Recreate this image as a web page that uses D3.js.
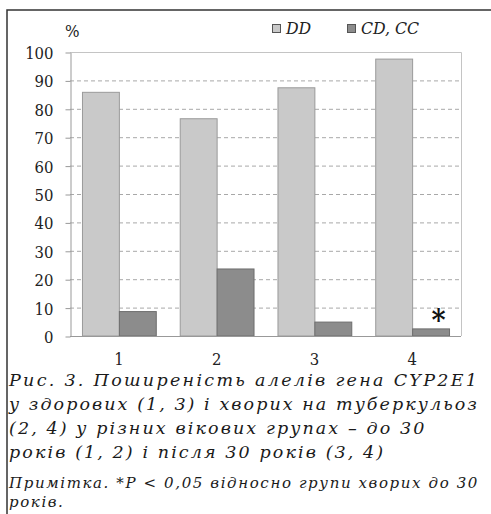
<!DOCTYPE html>
<html><head><meta charset="utf-8">
<script src="https://cdn.jsdelivr.net/npm/d3@7/dist/d3.min.js"></script>
<style>
body{margin:0;background:#fff}svg{display:block}
.serif{font-family:"DejaVu Serif Condensed","DejaVu Serif",serif;font-stretch:condensed}
.cap{font-family:"DejaVu Serif",serif;font-style:italic}
</style>
</head><body>
<svg id="c" width="491" height="514"></svg>
<script>
const groups = ["1", "2", "3", "4"];
const seriesNames = ["DD", "CD, CC"];
const ddValues = [85.8, 76.5, 87.4, 97.5];
const cdValues = [8.6, 23.6, 4.9, 2.5];
const yTicks = [0, 10, 20, 30, 40, 50, 60, 70, 80, 90, 100];
const yUnit = "%";
const captionLines = [
  "Рис. 3. Поширеність алелів гена CYP2E1",
  "у здорових (1, 3) і хворих на туберкульоз",
  "(2, 4) у різних вікових групах – до 30",
  "років (1, 2) і після 30 років (3, 4)"
];
const noteLines = [
  "Примітка. *P < 0,05 відносно групи хворих до 30",
  "років."
];
const marked = [{group: "4", series: 1, label: "*"}];

const svg = d3.select("#c");
const colors = ["#c9c9c9", "#8c8c8c"];
const strokes = ["#9a9a9a", "#6e6e6e"];
const L = 70, R = 461, T = 52, B = 336;

svg.append("path").attr("d", "M7,514 V10 H491").attr("fill", "none").attr("stroke", "#333").attr("stroke-width", 1.5);

const x0 = d3.scaleBand().domain(groups).range([L, R]).paddingInner(0.245).paddingOuter(0.1225);
const x1 = d3.scaleBand().domain([0, 1]).range([0, x0.bandwidth()]);
const y = d3.scaleLinear().domain([0, 100]).range([B, T]);

svg.append("g").selectAll("line").data(yTicks.filter(t => t > 0 && t < 100)).join("line")
  .attr("x1", L).attr("x2", R).attr("y1", d => y(d) + 0.5).attr("y2", d => y(d) + 0.5)
  .attr("stroke", "#a8a8a8").attr("stroke-dasharray", "4,3").attr("stroke-width", 1);

svg.append("path").attr("d", `M${L},${y(100)+0.5} H${R+0.5} V${B}`).attr("fill", "none").attr("stroke", "#c4c4c4").attr("stroke-width", 1);

const data = groups.map((g, i) => ({g, vals: [ddValues[i], cdValues[i]]}));
const gg = svg.append("g").selectAll("g").data(data).join("g")
  .attr("transform", d => `translate(${x0(d.g)},0)`);
gg.selectAll("rect").data(d => d.vals.map((v, s) => ({v, s}))).join("rect")
  .attr("x", d => x1(d.s) + 0.5).attr("width", x1.bandwidth())
  .attr("y", d => y(d.v)).attr("height", d => B - y(d.v))
  .attr("fill", d => colors[d.s]).attr("stroke", d => strokes[d.s]).attr("stroke-width", 1);

const ya = d3.axisLeft(y).tickValues(yTicks).tickSize(5).tickPadding(12).tickSizeOuter(0);
const yg = svg.append("g").attr("transform", `translate(${L + 0.5},0.5)`).call(ya)
  .attr("font-family", null).attr("font-size", null).attr("class", "serif");
yg.select(".domain").attr("stroke", "#999");
yg.selectAll(".tick line").attr("stroke", "#999");
yg.selectAll("text").attr("class", "serif").style("font-size", "16.5px").attr("fill", "#222").attr("dy", "0.36em");

const xa = d3.axisBottom(x0).tickSize(0).tickPadding(17).tickSizeOuter(0);
const xg = svg.append("g").attr("transform", `translate(0,${B + 0.5})`).call(xa)
  .attr("font-family", null).attr("font-size", null).attr("class", "serif");
xg.select(".domain").attr("stroke", "#999").attr("d", `M${L},0H${R}`);
xg.selectAll("text").attr("class", "serif").style("font-size", "16.5px").attr("fill", "#222");

svg.append("text").attr("class", "serif").attr("x", 65).attr("y", 37).text(yUnit)
  .style("font-size", "17px").attr("fill", "#222");

const legX = [272, 347];
seriesNames.forEach((n, i) => {
  svg.append("rect").attr("x", legX[i] + 0.5).attr("y", 24.5).attr("width", 8).attr("height", 8)
    .attr("fill", colors[i]).attr("stroke", "#555").attr("stroke-width", 1);
  svg.append("text").attr("class", "serif").attr("x", legX[i] + 14).attr("y", 34).text(n)
    .style("font-style", "italic").style("font-size", "17.5px").attr("fill", "#222");
});

marked.forEach(m => {
  const gi = groups.indexOf(m.group);
  const v = [ddValues, cdValues][m.series][gi];
  svg.append("text").attr("class", "serif").attr("x", x0(m.group) + x1(m.series) + x1.bandwidth() / 2 + 8).attr("y", y(v) + 1)
    .attr("text-anchor", "middle").text(m.label)
    .style("font-weight", "bold").style("font-size", "30px").attr("fill", "#111");
});

// caption: first lines justified to the text block width
const blockW = 470;
svg.append("g").selectAll("text").data(captionLines).join("text")
  .attr("class", "cap").attr("x", 9).attr("y", (d, i) => 386 + i * 24).text(d => d)
  .style("font-size", "17.5px").style("letter-spacing", "2.1px").attr("fill", "#1a1a1a")
  .each(function(d, i) {
    if (i < 2) d3.select(this).attr("textLength", blockW).attr("lengthAdjust", "spacing");
  });
svg.append("g").selectAll("text").data(noteLines).join("text")
  .attr("class", "cap").attr("x", 9).attr("y", (d, i) => 488 + i * 19).text(d => d)
  .style("font-size", "15px").style("letter-spacing", "1.6px").attr("fill", "#1a1a1a")
  .each(function(d, i) {
    if (i === 0) d3.select(this).attr("textLength", blockW).attr("lengthAdjust", "spacing");
  });
</script>
</body></html>
